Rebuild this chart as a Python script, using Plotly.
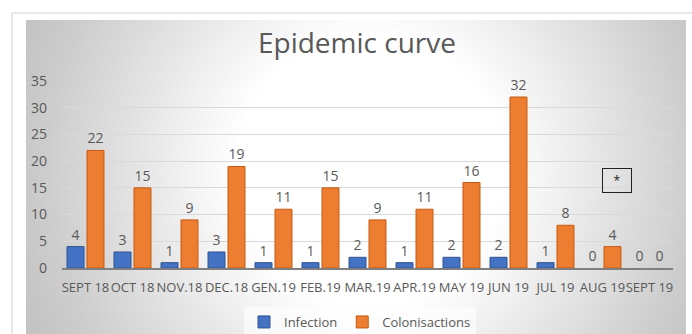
import plotly.graph_objects as go

categories = ["SEPT 18", "OCT 18", "NOV.18", "DEC.18", "GEN.19", "FEB.19", "MAR.19",
              "APR.19", "MAY 19", "JUN 19", "JUL 19", "AUG 19", "SEPT 19"]
infection = [4, 3, 1, 3, 1, 1, 2, 1, 2, 2, 1, 0, 0]
colonisactions = [22, 15, 9, 19, 11, 15, 9, 11, 16, 32, 8, 4, 0]
y_ticks = [0, 5, 10, 15, 20, 25, 30, 35]

W, H = 692, 334
TXT = "#595959"
FONT = "Open Sans"

fig = go.Figure()

# decorative radial-gradient background panel, drawn in a pixel-space helper subplot
CX, CY, R = 370, 170, 380
fig.add_trace(go.Scatter(
    x=[CX - R, CX + R, CX + R, CX - R, CX - R],
    y=[CY - R, CY - R, CY + R, CY + R, CY - R],
    xaxis="x", yaxis="y", mode="lines", line=dict(width=0),
    fill="toself",
    fillgradient=dict(type="radial",
                      colorscale=[[0, "#ffffff"], [0.35, "#ffffff"],
                                  [0.85, "#cdcdcd"], [1, "#c2c2c2"]]),
    hoverinfo="skip", showlegend=False))

fig.add_trace(go.Bar(
    x=categories, y=infection, name="Infection", xaxis="x2", yaxis="y2",
    marker=dict(color="#4472C4",
                line=dict(color="#2F528F", width=[1 if v else 0 for v in infection])),
    text=infection, textposition="outside", cliponaxis=False,
    textfont=dict(color=TXT, size=14, family=FONT)))
fig.add_trace(go.Bar(
    x=categories, y=colonisactions, name="Colonisactions", xaxis="x2", yaxis="y2",
    marker=dict(color="#ED7D31",
                line=dict(color="#C55A11", width=[1 if v else 0 for v in colonisactions])),
    text=colonisactions, textposition="outside", cliponaxis=False,
    textfont=dict(color=TXT, size=14, family=FONT)))

fig.update_layout(
    width=W, height=H,
    margin=dict(l=0, r=0, t=0, b=0, autoexpand=False),
    paper_bgcolor="white", plot_bgcolor="rgba(0,0,0,0)",
    font=dict(family=FONT, color=TXT, size=13),
    barmode="group", bargap=0.15, bargroupgap=0.15,
    title=dict(text="Epidemic curve", x=357 / W, xanchor="center",
               y=1 - 43 / H, yanchor="middle", automargin=False,
               font=dict(size=28, color=TXT, family=FONT)),
    xaxis=dict(domain=[26 / W, 686 / W], range=[26, 686], visible=False,
               fixedrange=True, anchor="y", automargin=False),
    yaxis=dict(domain=[0, 1 - 20 / H], range=[H, 20], visible=False,
               fixedrange=True, anchor="x", automargin=False),
    xaxis2=dict(domain=[62 / W, 673 / W], anchor="y2", showgrid=False,
                showline=True, linecolor="#7f7f7f", linewidth=2,
                tickangle=0, automargin=False, fixedrange=True,
                tickfont=dict(size=13, color=TXT), ticks="", ticklabelstandoff=6),
    yaxis2=dict(domain=[(H - 268) / H, (H - 81) / H], anchor="x2",
                range=[0, 35], tickvals=y_ticks, showgrid=True,
                gridcolor="#d9d9d9", gridwidth=1, zeroline=False,
                automargin=False, fixedrange=True,
                tickfont=dict(size=14, color=TXT), ticks="", ticklabelstandoff=14),
    legend=dict(orientation="h", x=360 / W, xanchor="center", y=(H - 322) / H,
                yanchor="middle", bgcolor="rgba(255,255,255,0.6)",
                font=dict(size=13, color=TXT), traceorder="normal",
                itemwidth=30),
    shapes=[dict(type="rect", xref="paper", yref="paper",
                 x0=12 / W, x1=1.05, y0=-0.1, y1=1 - 13 / H,
                 line=dict(color="#d0d0d0", width=1), layer="below")],
    annotations=[dict(text="*", xref="paper", yref="paper",
                      x=617 / W, y=(H - 180) / H, xanchor="center", yanchor="middle",
                      showarrow=False,
                      width=26, height=21, bordercolor="#222222", borderwidth=1,
                      font=dict(size=12, color="#222222"))],
)

fig.write_html("out.html", config={"displayModeBar": False},
               post_script="document.body.style.margin='0';")
